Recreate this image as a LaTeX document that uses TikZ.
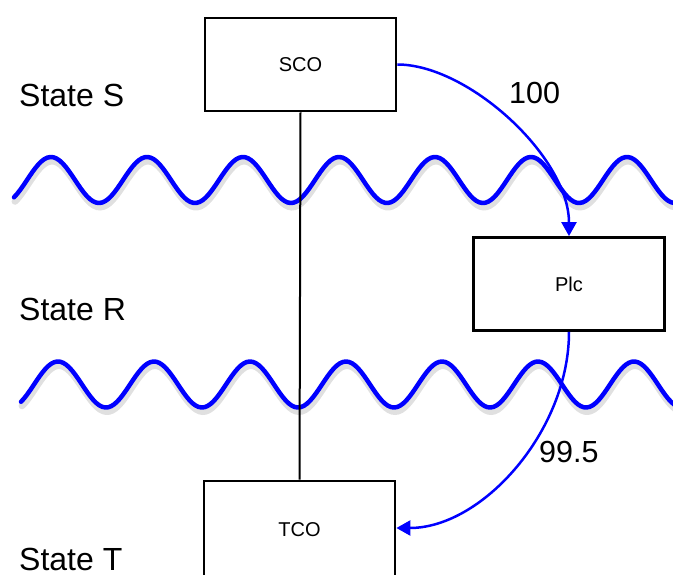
\documentclass[tikz,border=0pt]{standalone}
\usepackage{fontspec}
\setmainfont{Liberation Sans}
\usetikzlibrary{arrows.meta}
\begin{document}
\begin{tikzpicture}[x=1pt,y=-1pt,
  box/.style={draw=black, line width=2.8pt, fill=white, minimum width=191pt, minimum height=93pt, inner sep=0pt, font=\fontsize{20}{24}\selectfont},
  statelabel/.style={anchor=base west, inner sep=0pt, font=\fontsize{32}{38}\selectfont},
  numlabel/.style={anchor=base west, inner sep=0pt, font=\fontsize{30.5}{36}\selectfont},
  wave/.style={draw=blue, line width=4.5pt, line cap=round, line join=round},
  waveshadow/.style={draw=black, opacity=0.12, line width=7pt, line cap=round},
  flow/.style={draw=blue, line width=2.5pt, -{Triangle[length=14pt,width=15pt]}}]
\clip (0,0) rectangle (673,575);
% waves
\foreach \mid/\ph/\st in {180/51/14, 384.5/58/21}{
  \draw[waveshadow, shift={(1,4)}] plot[domain=\st:680, samples=220] (\x, {\mid - 23*cos(3.75*(\x-\ph))});
  \draw[wave] plot[domain=\st:680, samples=220] (\x, {\mid - 23*cos(3.75*(\x-\ph))});
}
% boxes
\node[box] (SCO) at (300.5,64.5) {SCO};
\node[box] (Plc) at (569,284) {Plc};
\node[box, minimum height=110pt] (TCO) at (299.5,536) {\raisebox{13pt}{TCO}};
% connectors
\draw[line width=2pt] (SCO.south) -- (TCO.north);
\draw[flow] (SCO.east) .. controls +(71,0) and +(0,-79) .. (Plc.north);
\draw[flow] (Plc.south) .. controls +(0,99) and +(86,0) .. (TCO.east |- 0,528);
% labels
\node[statelabel] (ls) at (19,107) {State S};
\node[statelabel] (lr) at (19,320) {State R};
\node[statelabel] (lt) at (19,570) {State T};
\node[numlabel] (n100) at (509,104) {100};
\node[numlabel] (n995) at (539,462) {99.5};
\end{tikzpicture}
\end{document}
